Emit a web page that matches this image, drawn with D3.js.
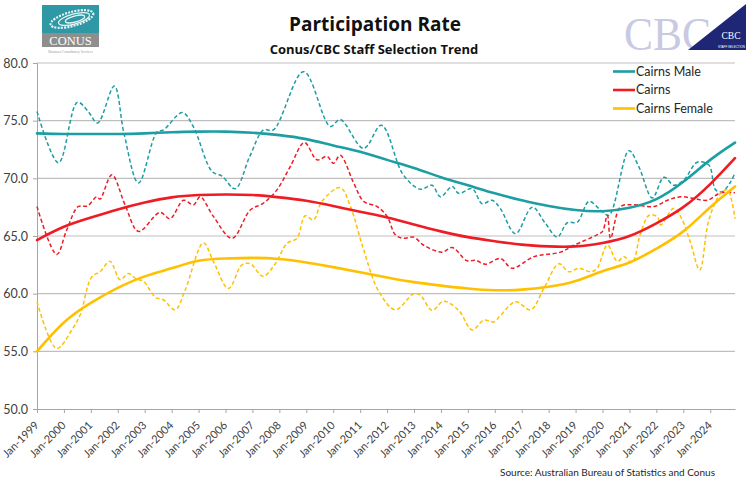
<!DOCTYPE html>
<html><head><meta charset="utf-8">
<script src="https://cdn.jsdelivr.net/npm/d3@7"></script>
<style>
body{margin:0;background:#fff;}
svg{display:block;font-family:Lato,"Open Sans",sans-serif;}
</style>
</head><body>
<svg id="c" width="750" height="489"></svg>
<script>
// ---------- DATA ----------
const yTicks = [50, 55, 60, 65, 70, 75, 80];
const tickYears = d3.range(1999, 2025); // Jan-1999 .. Jan-2024
const seriesNames = ["Cairns Male", "Cairns", "Cairns Female"];

// raw (dashed) series: [decimal year, value]
const maleRaw = [
 [1999.0,75.8],[1999.8,71.35],[2000.5,76.6],[2000.9,75.8],[2001.25,74.8],[2001.87,78.0],
 [2002.23,73.9],[2002.77,69.6],[2003.45,74.0],[2003.7,74.2],[2004.4,75.7],[2004.8,74.5],
 [2005.5,70.6],[2005.87,70.2],[2006.36,69.1],[2006.9,71.9],[2007.41,74.2],[2007.78,74.2],
 [2008.9,79.25],[2009.89,74.5],[2010.26,75.1],[2011.13,72.6],[2011.79,74.6],[2012.6,70.3],
 [2013.24,69.05],[2013.67,69.4],[2013.98,68.4],[2014.42,69.3],[2014.66,68.7],[2015.16,69.1],
 [2015.53,67.8],[2015.9,68.1],[2016.2,67.4],[2016.77,65.2],[2017.39,67.5],[2017.88,66.1],
 [2018.32,64.9],[2018.69,66.15],[2019.06,66.2],[2019.5,68.0],[2019.93,67.25],[2020.24,66.8],
 [2020.98,72.4],[2021.35,71.0],[2021.85,68.3],[2022.28,70.1],[2022.65,69.4],[2023.02,69.85],
 [2023.52,71.4],[2023.95,71.15],[2024.2,69.0],[2024.45,68.85],[2024.76,69.7],[2024.92,70.5]
];
const cairnsRaw = [
 [1999.0,67.55],[1999.73,63.4],[2000.1,65.5],[2000.53,67.55],[2000.87,67.6],[2001.22,68.4],
 [2001.34,68.2],[2001.78,70.3],[2002.27,67.7],[2002.77,65.4],[2003.57,67.05],[2003.94,66.5],
 [2004.44,68.1],[2004.81,67.7],[2005.06,68.4],[2005.55,66.7],[2006.24,64.8],[2006.92,67.25],
 [2007.41,67.85],[2007.91,69.0],[2008.4,71.0],[2008.93,73.1],[2009.4,71.6],[2009.77,71.9],
 [2010.01,71.3],[2010.26,72.0],[2010.76,69.6],[2011.13,68.0],[2011.63,67.55],[2012.0,66.7],
 [2012.31,65.1],[2012.61,64.8],[2012.99,64.9],[2013.36,64.2],[2014.04,63.6],[2014.42,64.0],
 [2014.97,62.85],[2015.28,62.9],[2015.65,62.55],[2016.21,63.05],[2016.64,62.2],[2017.45,63.2],
 [2018.44,63.6],[2018.94,64.2],[2019.8,65.1],[2020.0,65.4],[2020.18,66.8],[2020.3,64.8],
 [2020.67,67.55],[2021.17,67.7],[2021.91,67.55],[2022.41,68.1],[2022.9,68.4],[2023.4,68.25],
 [2023.9,68.1],[2024.39,68.75],[2024.92,68.75]
];
const femaleRaw = [
 [1999.0,59.3],[1999.73,55.25],[2000.29,56.85],[2000.6,58.15],[2001.03,61.45],[2001.34,61.9],
 [2001.71,62.8],[2002.09,61.2],[2002.39,61.75],[2002.7,61.25],[2002.95,61.1],[2003.39,59.7],
 [2003.7,59.45],[2004.13,58.6],[2004.5,60.3],[2005.18,64.4],[2005.55,62.8],[2006.11,60.45],
 [2006.61,62.5],[2006.92,62.6],[2007.39,61.5],[2007.85,62.6],[2008.28,64.35],[2008.65,64.8],
 [2008.96,66.75],[2009.27,66.4],[2009.58,68.0],[2010.26,69.2],[2010.64,67.55],[2011.13,63.8],
 [2011.69,60.2],[2012.31,58.6],[2012.99,60.0],[2013.24,59.85],[2013.67,58.55],[2014.1,59.35],
 [2014.66,58.55],[2015.16,56.85],[2015.59,57.7],[2015.96,57.55],[2016.21,58.1],[2016.77,59.3],
 [2017.33,58.6],[2017.82,60.45],[2018.38,62.6],[2018.75,61.9],[2019.12,62.2],[2019.56,61.9],
 [2019.8,62.2],[2020.18,64.2],[2020.55,62.8],[2020.8,63.2],[2021.1,62.7],[2021.41,65.2],
 [2021.73,66.8],[2022.04,66.65],[2022.16,65.95],[2022.65,67.4],[2022.96,66.4],[2023.27,64.4],
 [2023.61,62.05],[2023.95,66.4],[2024.39,68.7],[2024.64,69.0],[2024.92,66.5]
];

// trend (solid) series sampled at each January plus the last month
const trendYears = [1999,2000,2001,2002,2003,2004,2005,2006,2007,2008,2009,2010,2011,2012,
                    2013,2014,2015,2016,2017,2018,2019,2020,2021,2022,2023,2024,2024.92];
const maleTrend   = [73.9,73.85,73.85,73.85,73.9,74.0,74.05,74.05,73.95,73.75,73.4,72.85,72.3,71.6,
                     70.9,70.1,69.4,68.7,68.1,67.6,67.25,67.15,67.45,68.2,69.7,71.6,73.1];
const cairnsTrend = [64.65,65.8,66.6,67.3,67.9,68.35,68.55,68.6,68.55,68.35,68.05,67.6,67.1,66.6,
                     66.0,65.4,64.9,64.55,64.25,64.1,64.1,64.4,65.0,66.1,67.5,69.5,71.75];
const femaleTrend = [55.0,57.5,59.2,60.5,61.5,62.2,62.85,63.05,63.1,63.0,62.7,62.3,61.85,61.4,
                     61.0,60.7,60.45,60.3,60.35,60.6,61.1,61.95,62.7,63.9,65.4,67.5,69.3];

// ---------- DRAW ----------
const colors = {male:"#1C9EA3", cairns:"#EE1C24", female:"#FFC000"};
const svg = d3.select("#c");
const X0 = 37, X1 = 735, Y0 = 409, Y1 = 63;
const x = d3.scaleLinear().domain([1999, 2024.92]).range([X0, X1]);
const y = d3.scaleLinear().domain([50, 80]).range([Y0, Y1]);

// gridlines
svg.append("g").selectAll("line").data(yTicks.filter(d => d > 50)).join("line")
  .attr("x1", X0).attr("x2", X1).attr("y1", d => y(d)).attr("y2", d => y(d))
  .attr("stroke", "#BFBFBF").attr("stroke-width", 1.2);

// y axis
const yAxis = svg.append("g").attr("transform", `translate(${X0},0)`)
  .call(d3.axisLeft(y).tickValues(yTicks).tickFormat(d3.format(".1f")).tickSize(4).tickPadding(5));
yAxis.select(".domain").attr("stroke", "#A6A6A6");
yAxis.selectAll(".tick line").attr("stroke", "#A6A6A6");
yAxis.selectAll("text").attr("font-size", 12.5).attr("fill", "#404040")
  .attr("font-family", "Lato, sans-serif");

// x axis
const xAxis = svg.append("g").attr("transform", `translate(0,${Y0})`)
  .call(d3.axisBottom(x).tickValues(tickYears).tickFormat(d => "Jan-" + d).tickSize(4).tickSizeOuter(0));
xAxis.select(".domain").attr("stroke", "#A6A6A6");
xAxis.selectAll(".tick line").attr("stroke", "#A6A6A6");
xAxis.selectAll("text")
  .attr("font-size", 11).attr("fill", "#404040").attr("font-family", "Lato, sans-serif")
  .attr("text-anchor", "end").attr("dy", null).attr("y", 0)
  .attr("transform", "translate(2,17) rotate(-45)");

// lines
const raw = d3.line().x(d => x(d[0])).y(d => y(d[1])).curve(d3.curveCatmullRom.alpha(0.5));
const trend = d3.line().x((d, i) => x(trendYears[i])).y(d => y(d)).curve(d3.curveNatural);

const rawSets = [[maleRaw, colors.male], [cairnsRaw, colors.cairns], [femaleRaw, colors.female]];
rawSets.forEach(([data, c]) => {
  svg.append("path").datum(data).attr("d", raw).attr("fill", "none")
    .attr("stroke", c).attr("stroke-width", 1.5).attr("stroke-dasharray", "4,2.5");
});
const trendSets = [[maleTrend, colors.male], [cairnsTrend, colors.cairns], [femaleTrend, colors.female]];
trendSets.forEach(([data, c]) => {
  svg.append("path").datum(data).attr("d", trend).attr("fill", "none")
    .attr("stroke", c).attr("stroke-width", 2.6).attr("stroke-linecap", "round");
});

// legend
svg.append("rect").attr("x", 608).attr("y", 64).attr("width", 127).attr("height", 55.5).attr("fill", "#fff");
const legY = [71.5, 90, 108.5];
const legC = [colors.male, colors.cairns, colors.female];
seriesNames.forEach((n, i) => {
  svg.append("line").attr("x1", 613).attr("x2", 635).attr("y1", legY[i]).attr("y2", legY[i])
    .attr("stroke", legC[i]).attr("stroke-width", 2.6);
  svg.append("text").attr("x", 636).attr("y", legY[i]).attr("dy", "0.35em")
    .attr("font-size", 12.5).attr("fill", "#262626").text(n);
});

// titles
svg.append("text").attr("x", 375).attr("y", 31).attr("text-anchor", "middle")
  .attr("font-family", "'Open Sans', sans-serif")
  .attr("font-size", 19).attr("font-weight", "bold").attr("fill", "#111").text("Participation Rate");
svg.append("text").attr("x", 374).attr("y", 54).attr("text-anchor", "middle")
  .attr("font-family", "'Open Sans', sans-serif")
  .attr("font-size", 13).attr("font-weight", "bold").attr("fill", "#111").text("Conus/CBC  Staff Selection Trend");

// source
svg.append("text").attr("x", 715).attr("y", 476).attr("text-anchor", "end")
  .attr("font-size", 10).attr("fill", "#262626").text("Source:  Australian Bureau of Statistics and Conus");

// CONUS logo
const lg = svg.append("g");
lg.append("rect").attr("x", 42).attr("y", 5).attr("width", 57).attr("height", 28).attr("fill", "#2E99A5");
lg.append("rect").attr("x", 42).attr("y", 33).attr("width", 57).attr("height", 14).attr("fill", "#8E8E8E");
[[72, 19, 22, 7], [74, 19, 16, 5], [75, 19, 10, 3]].forEach(([cx, cy, rx, ry], i) => {
  lg.append("ellipse").attr("cx", cx).attr("cy", cy).attr("rx", rx).attr("ry", ry)
    .attr("transform", `rotate(-15,${cx},${cy})`)
    .attr("fill", "none").attr("stroke", "#fff").attr("stroke-width", i === 0 ? 2.2 : 1.2)
    .attr("stroke-dasharray", i === 0 ? "2,1.2" : "none").attr("opacity", 0.9);
});
lg.append("text").attr("x", 70.5).attr("y", 44.5).attr("text-anchor", "middle")
  .attr("font-family", "Liberation Serif, serif").attr("font-size", 12.5).attr("fill", "#fff").text("CONUS");
lg.append("text").attr("x", 70.5).attr("y", 53).attr("text-anchor", "middle")
  .attr("font-family", "Liberation Serif, serif").attr("font-size", 3.6).attr("fill", "#999").text("Business Consultancy Services");

// CBC logo
const cb = svg.append("g");
cb.append("text").attr("x", 624).attr("y", 50).attr("font-family", "Liberation Serif, serif")
  .attr("font-size", 47).attr("fill", "#C8C9E2")
  .attr("textLength", 87).attr("lengthAdjust", "spacingAndGlyphs").text("CBC");
cb.append("polygon").attr("points", "688,50 746,50 746,4").attr("fill", "#1F2676");
cb.append("text").attr("x", 731).attr("y", 39).attr("text-anchor", "middle").attr("font-family", "Liberation Serif, serif")
  .attr("font-size", 9.5).attr("fill", "#fff").text("CBC");
cb.append("text").attr("x", 731.5).attr("y", 47.5).attr("text-anchor", "middle").attr("font-family", "Liberation Sans, sans-serif")
  .attr("font-size", 3.6).attr("fill", "#fff")
  .attr("textLength", 27).attr("lengthAdjust", "spacingAndGlyphs").text("STAFF SELECTION");
</script>
</body></html>
